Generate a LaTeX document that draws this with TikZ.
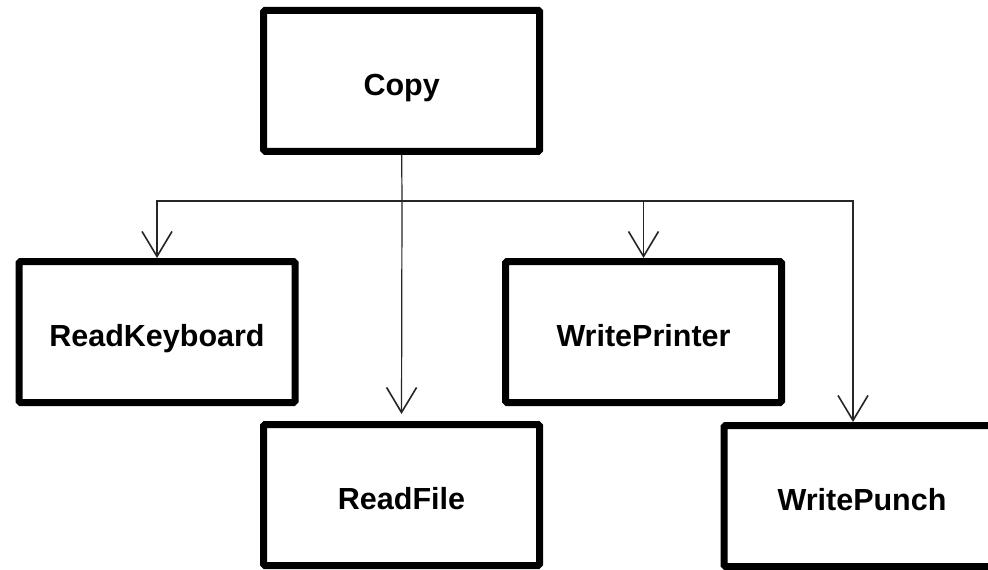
\documentclass[tikz,border=0pt]{standalone}
\usepackage{fontspec}
\setmainfont{Liberation Sans}
\usetikzlibrary{arrows.meta,calc}
\begin{document}
\begin{tikzpicture}[x=1pt,y=1pt,
  modbox/.style={draw=black, line width=7pt, rounded corners=1.5pt, minimum width=276pt, minimum height=141pt, inner sep=0pt, text height=29.8pt, text depth=0pt, font=\fontsize{30.5}{36}\selectfont\bfseries, fill=white},
  conn/.style={draw=black!85, line width=1.2pt},
  arr/.style={-{Straight Barb[length=25pt,width=30pt,line width=1.6pt]}}]
\useasboundingbox (0,0) rectangle (988,-570);
\fill[white] (0,0) rectangle (988,-570);
\node[modbox] (copy) at (401.7,-80.75) {Copy};
\node[modbox] (rk) at (157,-332) {ReadKeyboard};
\node[modbox] (wpr) at (643.5,-332) {WritePrinter};
\node[modbox] (rf) at (401.5,-495) {ReadFile};
\node[modbox] (wpu) at (862,-496) {WritePunch};
\coordinate (br) at (402,-201);
\coordinate (pu) at ($(wpu.north)+(-9,0)$);
\draw[conn] (copy.south) -- (br);
\draw[conn,arr] (br) -| (rk.north);
\draw[conn,arr,shorten >=7pt] (br) -- (rf.north);
\draw[conn,arr] (br) -| (wpr.north);
\draw[conn,arr] (br) -| (pu);
\end{tikzpicture}
\end{document}
